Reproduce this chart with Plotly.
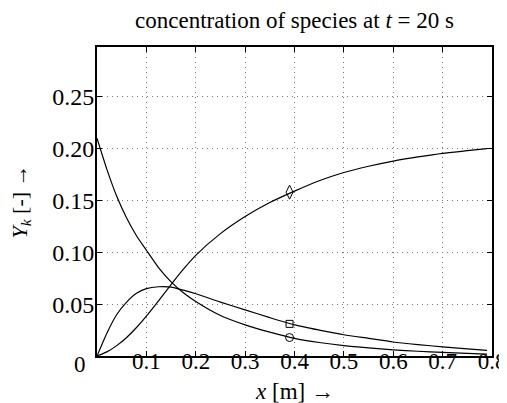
import plotly.graph_objects as go

# positions along x [m]
x_vals = [0, 0.02, 0.04, 0.06, 0.08, 0.10, 0.125, 0.15, 0.175, 0.2, 0.25, 0.3,
          0.35, 0.4, 0.45, 0.5, 0.55, 0.6, 0.65, 0.7, 0.75, 0.79]

# species mass fractions
y_decay = [0.210, 0.180, 0.154, 0.133, 0.116, 0.102, 0.085, 0.0715, 0.061, 0.0525,
           0.039, 0.030, 0.023, 0.017, 0.013, 0.010, 0.0078, 0.0060, 0.0046,
           0.0035, 0.0025, 0.0018]
y_hump = [0.0, 0.022, 0.040, 0.052, 0.0605, 0.065, 0.0668, 0.0665, 0.0635, 0.060,
          0.052, 0.0445, 0.037, 0.030, 0.025, 0.0205, 0.017, 0.0135, 0.011,
          0.0088, 0.0068, 0.0055]
y_rise = [0.0, 0.004, 0.010, 0.0179, 0.0275, 0.0385, 0.0535, 0.0689, 0.0837, 0.0971,
          0.118, 0.1345, 0.148, 0.159, 0.169, 0.177, 0.183, 0.188, 0.192,
          0.1955, 0.198, 0.200]

# marker locations
marker_x = [0.39]
marker_decay = [0.0178]
marker_hump = [0.031]
marker_rise = [0.158]

x_ticks = [0.1, 0.2, 0.3, 0.4, 0.5, 0.6, 0.7, 0.8]
x_ticktext = ["0.1", "0.2", "0.3", "0.4", "0.5", "0.6", "0.7", "0.8"]
y_ticks = [0.05, 0.10, 0.15, 0.20, 0.25]
y_ticktext = ["0.05", "0.10", "0.15", "0.20", "0.25"]

FONT = "Liberation Serif"
line_style = dict(color="black", width=1.2, shape="spline", smoothing=0.6)

fig = go.Figure()
for ys in (y_decay, y_hump, y_rise):
    fig.add_trace(go.Scatter(x=x_vals, y=ys, mode="lines", line=line_style,
                             showlegend=False, hoverinfo="skip"))

for ys, sym, sz in ((marker_decay, "circle-open", 8),
                    (marker_hump, "square-open", 7),
                    (marker_rise, "diamond-tall-open", 10)):
    fig.add_trace(go.Scatter(x=marker_x, y=ys, mode="markers",
                             marker=dict(symbol=sym, size=sz, color="black",
                                         line=dict(color="black", width=1)),
                             showlegend=False, hoverinfo="skip"))

axis_common = dict(
    showline=True, linecolor="black", linewidth=2, mirror="allticks",
    ticks="inside", ticklen=5, tickwidth=1, tickcolor="black",
    showgrid=True, gridcolor="#777777", griddash="1px,4px", gridwidth=1,
    zeroline=False, automargin=False,
)

# page body adds an 8px offset, so the figure is sized to the visible area
W, H = 499, 395
fig.update_layout(
    width=W, height=H,
    margin=dict(l=89, r=15, t=39, b=47),
    paper_bgcolor="white", plot_bgcolor="white",
    font=dict(family=FONT, color="black"),
    title=dict(text="concentration of species at <i>t</i> = 20 s",
               x=0.5, xref="paper", xanchor="center",
               y=1 - 12 / H, yref="container", yanchor="middle",
               font=dict(family=FONT, size=23, color="black")),
    xaxis=dict(range=[0, 0.8], tickvals=x_ticks, ticktext=x_ticktext,
               ticklabelstandoff=-17,
               tickfont=dict(family=FONT, size=23, color="black"),
               **axis_common),
    yaxis=dict(range=[0, 0.298], tickvals=y_ticks, ticktext=y_ticktext,
               ticklabelstandoff=-4,
               tickfont=dict(family=FONT, size=24, color="black"),
               **axis_common),
    annotations=[
        dict(text="0", x=0, y=0, xref="paper", yref="paper",
             xanchor="center", yanchor="middle", xshift=-17, yshift=-8,
             showarrow=False, font=dict(family=FONT, size=23, color="black")),
        dict(text="<i>x</i> [m] →", x=0.5, y=0, xref="paper", yref="paper",
             xanchor="center", yanchor="middle", yshift=-35,
             showarrow=False, font=dict(family=FONT, size=23, color="black")),
        dict(text="<i>Y</i><sub><i>k</i></sub> [-] →", x=0, y=0.5,
             xref="paper", yref="paper", xanchor="center", yanchor="middle",
             xshift=-77, textangle=-90,
             showarrow=False, font=dict(family=FONT, size=22, color="black")),
    ],
)

fig.write_html("out.html")
